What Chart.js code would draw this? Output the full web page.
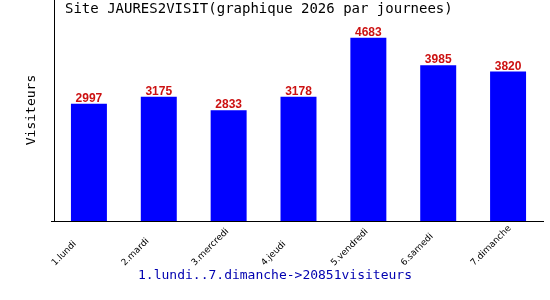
<!DOCTYPE html>
<html>
<head>
<meta charset="utf-8">
<script src="https://cdn.jsdelivr.net/npm/chart.js@4/dist/chart.umd.min.js"></script>
<style>
  html, body { margin: 0; padding: 0; background: #fff; }
  #wrap { width: 550px; height: 300px; }
</style>
</head>
<body>
<div id="wrap"><canvas id="visitChart"></canvas></div>
<script>
const days = ['1.lundi', '2.mardi', '3.mercredi', '4.jeudi', '5.vendredi', '6.samedi', '7.dimanche'];
const visitors = [2997, 3175, 2833, 3178, 4683, 3985, 3820];
const titleText = 'Site JAURES2VISIT(graphique 2026 par journees)';
const yTitle = 'Visiteurs';
const footerText = '1.lundi..7.dimanche->20851visiteurs';

const mono = '"DejaVu Sans Mono", monospace';

// title, axis title, footer, day labels and value labels drawn by hand
const textPlugin = {
    id: 'texts',
    afterDraw(chart) {
        const ctx = chart.ctx;
        ctx.save();
        ctx.fillStyle = '#000';
        ctx.font = '14px ' + mono;
        ctx.textAlign = 'left';
        ctx.textBaseline = 'middle';
        ctx.fillText(titleText, 65, 9);

        ctx.font = '13px ' + mono;
        ctx.translate(32, 110);
        ctx.rotate(-Math.PI / 2);
        ctx.textAlign = 'center';
        ctx.fillText(yTitle, 0, 0);
        ctx.setTransform(1, 0, 0, 1, 0, 0);

        ctx.fillStyle = '#0000b0';
        ctx.font = '13px ' + mono;
        ctx.textAlign = 'center';
        ctx.fillText(footerText, 275, 276);

        // day labels: start-anchored, slanted 45 deg
        const xs = chart.scales.x;
        ctx.fillStyle = '#000';
        ctx.font = '9px "DejaVu Sans", sans-serif';
        ctx.textAlign = 'left';
        ctx.textBaseline = 'alphabetic';
        days.forEach((d, i) => {
            ctx.save();
            ctx.translate(xs.getPixelForValue(i) - 34, 266);
            ctx.rotate(-Math.PI / 4);
            ctx.fillText(d, 0, 0);
            ctx.restore();
        });

        ctx.fillStyle = '#cc1111';
        ctx.font = 'bold 12px "Liberation Sans", Arial, sans-serif';
        ctx.textAlign = 'center';
        ctx.textBaseline = 'alphabetic';
        const meta = chart.getDatasetMeta(0);
        meta.data.forEach((bar, i) => {
            ctx.fillText(visitors[i], bar.x, bar.y - 2);
        });

        // little tick at the left end of the x axis
        ctx.strokeStyle = '#000';
        ctx.lineWidth = 1;
        ctx.beginPath();
        ctx.moveTo(chart.chartArea.left - 3, chart.chartArea.bottom + 0.5);
        ctx.lineTo(chart.chartArea.left, chart.chartArea.bottom + 0.5);
        ctx.stroke();
        ctx.restore();
    }
};

new Chart(document.getElementById('visitChart'), {
    type: 'bar',
    data: {
        labels: days,
        datasets: [{
            label: yTitle,
            data: visitors,
            backgroundColor: '#0000ff',
            borderWidth: 0,
            barPercentage: 0.515,
            categoryPercentage: 1
        }]
    },
    options: {
        responsive: true,
        maintainAspectRatio: false,
        animation: false,
        layout: { padding: { left: 54, right: 7, top: 0, bottom: 0 } },
        plugins: {
            legend: { display: false },
            tooltip: { enabled: false }
        },
        scales: {
            x: {
                grid: { display: false },
                border: { display: true, color: '#000', width: 1 },
                ticks: { display: false },
                afterFit(scale) { scale.height = 79; }
            },
            y: {
                min: 0,
                max: 5650,
                grid: { display: false },
                border: { display: true, color: '#000', width: 1 },
                ticks: { display: false },
                afterFit(scale) { scale.width = 0; }
            }
        }
    },
    plugins: [textPlugin]
});
</script>
</body>
</html>
